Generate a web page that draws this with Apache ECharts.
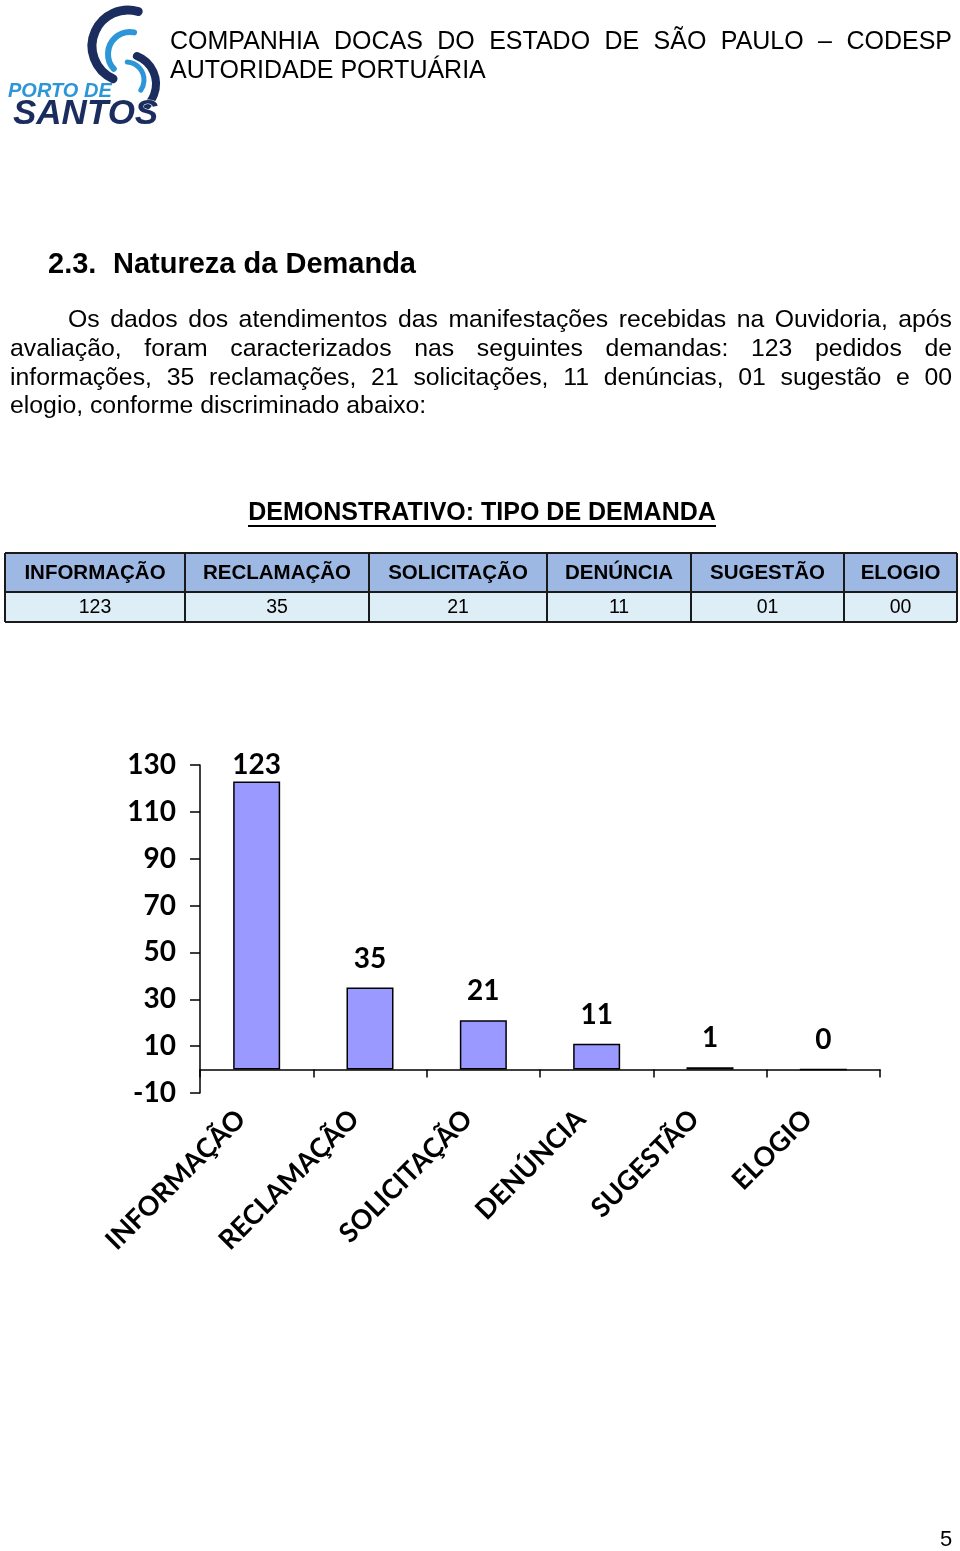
<!DOCTYPE html>
<html><head><meta charset="utf-8">
<script src="https://cdn.jsdelivr.net/npm/echarts@6/dist/echarts.min.js"></script>
<style>html,body{margin:0;padding:0;background:#fff}#c{width:960px;height:1551px}</style>
</head><body><div id="c"></div>
<script>
// ---- data ----
const categories = ['INFORMAÇÃO', 'RECLAMAÇÃO', 'SOLICITAÇÃO', 'DENÚNCIA', 'SUGESTÃO', 'ELOGIO'];
const values = [123, 35, 21, 11, 1, 0];
const tableValues = ['123', '35', '21', '11', '01', '00'];
const yMin = -10, yMax = 130, yStep = 20;
const headerLine1 = 'COMPANHIA DOCAS DO ESTADO DE SÃO PAULO – CODESP';
const headerLine2 = 'AUTORIDADE PORTUÁRIA';
const sectionNumber = '2.3.';
const sectionTitle = 'Natureza da Demanda';
const paragraphLines = [
  'Os dados dos atendimentos das manifestações recebidas na Ouvidoria, após',
  'avaliação, foram caracterizados nas seguintes demandas: 123 pedidos de',
  'informações, 35 reclamações, 21 solicitações, 11 denúncias, 01 sugestão e 00',
  'elogio, conforme discriminado abaixo:'
];
const tableTitle = 'DEMONSTRATIVO: TIPO DE DEMANDA';
const pageNumber = '5';

// ---- helpers ----
const SANS = 'Liberation Sans';
const mctx = document.createElement('canvas').getContext('2d');
function wordsLine(text, x0, x1, y, size, weight, justify) {
  mctx.font = weight + ' ' + size + 'px "' + SANS + '"';
  const words = text.split(' ');
  const w = words.map(s => mctx.measureText(s).width);
  const total = w.reduce((a, b) => a + b, 0);
  const gap = justify ? (x1 - x0 - total) / (words.length - 1) : mctx.measureText(' ').width;
  let x = x0;
  return words.map((s, i) => {
    const el = { type: 'text', x: x, y: y, silent: true,
      style: { text: s, fontFamily: SANS, fontSize: size, fontWeight: weight, fill: '#000', verticalAlign: 'middle', align: 'left' } };
    x += w[i] + gap;
    return el;
  });
}
function txt(text, x, y, size, weight, align, extra) {
  return Object.assign({ type: 'text', x: x, y: y, silent: true,
    style: Object.assign({ text: text, fontFamily: SANS, fontSize: size, fontWeight: weight, fill: '#000', verticalAlign: 'middle', align: align }, extra || {}) });
}

const graphics = [];
// logo
const NAVY = '#1b2d5e', LBLUE = '#2d96d8';
graphics.push({ type: 'arc', silent: true, shape: { cx: 128, cy: 46, r: 36, startAngle: 2.0, endAngle: 5.0, clockwise: true }, style: { stroke: NAVY, lineWidth: 9, fill: null, lineCap: 'round' } });
graphics.push({ type: 'arc', silent: true, shape: { cx: 130, cy: 54, r: 22, startAngle: 2.4, endAngle: 4.9, clockwise: true }, style: { stroke: LBLUE, lineWidth: 6, fill: null, lineCap: 'round' } });
graphics.push({ type: 'arc', silent: true, shape: { cx: 126, cy: 84, r: 30, startAngle: -1.2, endAngle: 0.9, clockwise: true }, style: { stroke: NAVY, lineWidth: 8, fill: null, lineCap: 'round' } });
graphics.push({ type: 'arc', silent: true, shape: { cx: 126, cy: 80, r: 18, startAngle: -1.5, endAngle: 0.6, clockwise: true }, style: { stroke: LBLUE, lineWidth: 5, fill: null, lineCap: 'round' } });
graphics.push(txt('PORTO DE', 8, 91, 20, 'bold', 'left', { fontStyle: 'italic', fill: LBLUE }));
graphics.push(txt('SANTOS', 13, 114, 35, 900, 'left', { fontStyle: 'italic', fill: NAVY, stroke: '#fff', lineWidth: 1 }));

// header
graphics.push(...wordsLine(headerLine1, 170, 952, 42, 25, 'normal', true));
graphics.push(txt(headerLine2, 170, 71, 25, 'normal', 'left'));

// section title
graphics.push(txt(sectionNumber, 48, 265, 29, 'bold', 'left'));
graphics.push(txt(sectionTitle, 113, 265, 29, 'bold', 'left'));

// paragraph
graphics.push(...wordsLine(paragraphLines[0], 68, 952, 320, 24.8, 'normal', true));
graphics.push(...wordsLine(paragraphLines[1], 10, 952, 349, 24.8, 'normal', true));
graphics.push(...wordsLine(paragraphLines[2], 10, 952, 378, 24.8, 'normal', true));
graphics.push(...wordsLine(paragraphLines[3], 10, 952, 406, 24.8, 'normal', false));

// table title
graphics.push(txt(tableTitle, 482, 513, 25, 'bold', 'center'));
graphics.push({ type: 'line', silent: true, shape: { x1: 248, y1: 526, x2: 716, y2: 526 }, style: { stroke: '#000', lineWidth: 2 } });

// table
const colX = [5, 185, 369, 547, 691, 844, 957];
const rowY = [553, 592, 622];
graphics.push({ type: 'rect', silent: true, shape: { x: colX[0], y: rowY[0], width: colX[6] - colX[0], height: rowY[1] - rowY[0] }, style: { fill: '#9db9e3' } });
graphics.push({ type: 'rect', silent: true, shape: { x: colX[0], y: rowY[1], width: colX[6] - colX[0], height: rowY[2] - rowY[1] }, style: { fill: '#ddeef6' } });
rowY.forEach(y => graphics.push({ type: 'line', silent: true, shape: { x1: colX[0], y1: y, x2: colX[6], y2: y }, style: { stroke: '#1a1a1a', lineWidth: 2 } }));
colX.forEach(x => graphics.push({ type: 'line', silent: true, shape: { x1: x, y1: rowY[0], x2: x, y2: rowY[2] }, style: { stroke: '#1a1a1a', lineWidth: 2 } }));
categories.forEach((c, i) => {
  const cx = (colX[i] + colX[i + 1]) / 2;
  graphics.push(txt(c, cx, (rowY[0] + rowY[1]) / 2 + 1, 20.5, 'bold', 'center'));
  graphics.push(txt(tableValues[i], cx, (rowY[1] + rowY[2]) / 2 + 1, 19.5, 'normal', 'center'));
});

// page number
graphics.push(txt(pageNumber, 946, 1540, 22, 'normal', 'center'));

// ---- chart ----
const CHART_FONT = 'Lato';
const barData = values.map((v, i) => i === 0 ? { value: v, label: { distance: 2 } } : v);

const chart = echarts.init(document.getElementById('c'), null, { renderer: 'canvas' });
chart.setOption({
  animation: false,
  backgroundColor: '#fff',
  graphic: graphics,
  grid: { left: 200, top: 765, width: 680, height: 328, containLabel: false },
  xAxis: {
    type: 'category', data: categories,
    axisLine: { onZero: true, lineStyle: { color: '#000', width: 1.5 } },
    axisTick: { show: true, length: 8, lineStyle: { color: '#000', width: 1.5 } },
    axisLabel: { interval: 0, rotate: 45, margin: 6, padding: [0, 22, 0, 0], fontFamily: CHART_FONT, fontWeight: 'bold', fontSize: 27, color: '#000' }
  },
  yAxis: {
    type: 'value', min: yMin, max: yMax, interval: yStep,
    splitLine: { show: false },
    axisLine: { show: true, lineStyle: { color: '#000', width: 1.5 } },
    axisTick: { show: true, length: 10, lineStyle: { color: '#000', width: 1.5 } },
    axisLabel: { margin: 24, fontFamily: CHART_FONT, fontWeight: 'bold', fontSize: 28, color: '#000' }
  },
  series: [{
    type: 'bar', data: barData, barWidth: 47,
    itemStyle: { color: '#9999ff', borderColor: '#000', borderWidth: 1.5 },
    label: { show: true, position: 'top', distance: 15, fontFamily: CHART_FONT, fontWeight: 'bold', fontSize: 28, color: '#000' }
  }]
});
</script></body></html>
